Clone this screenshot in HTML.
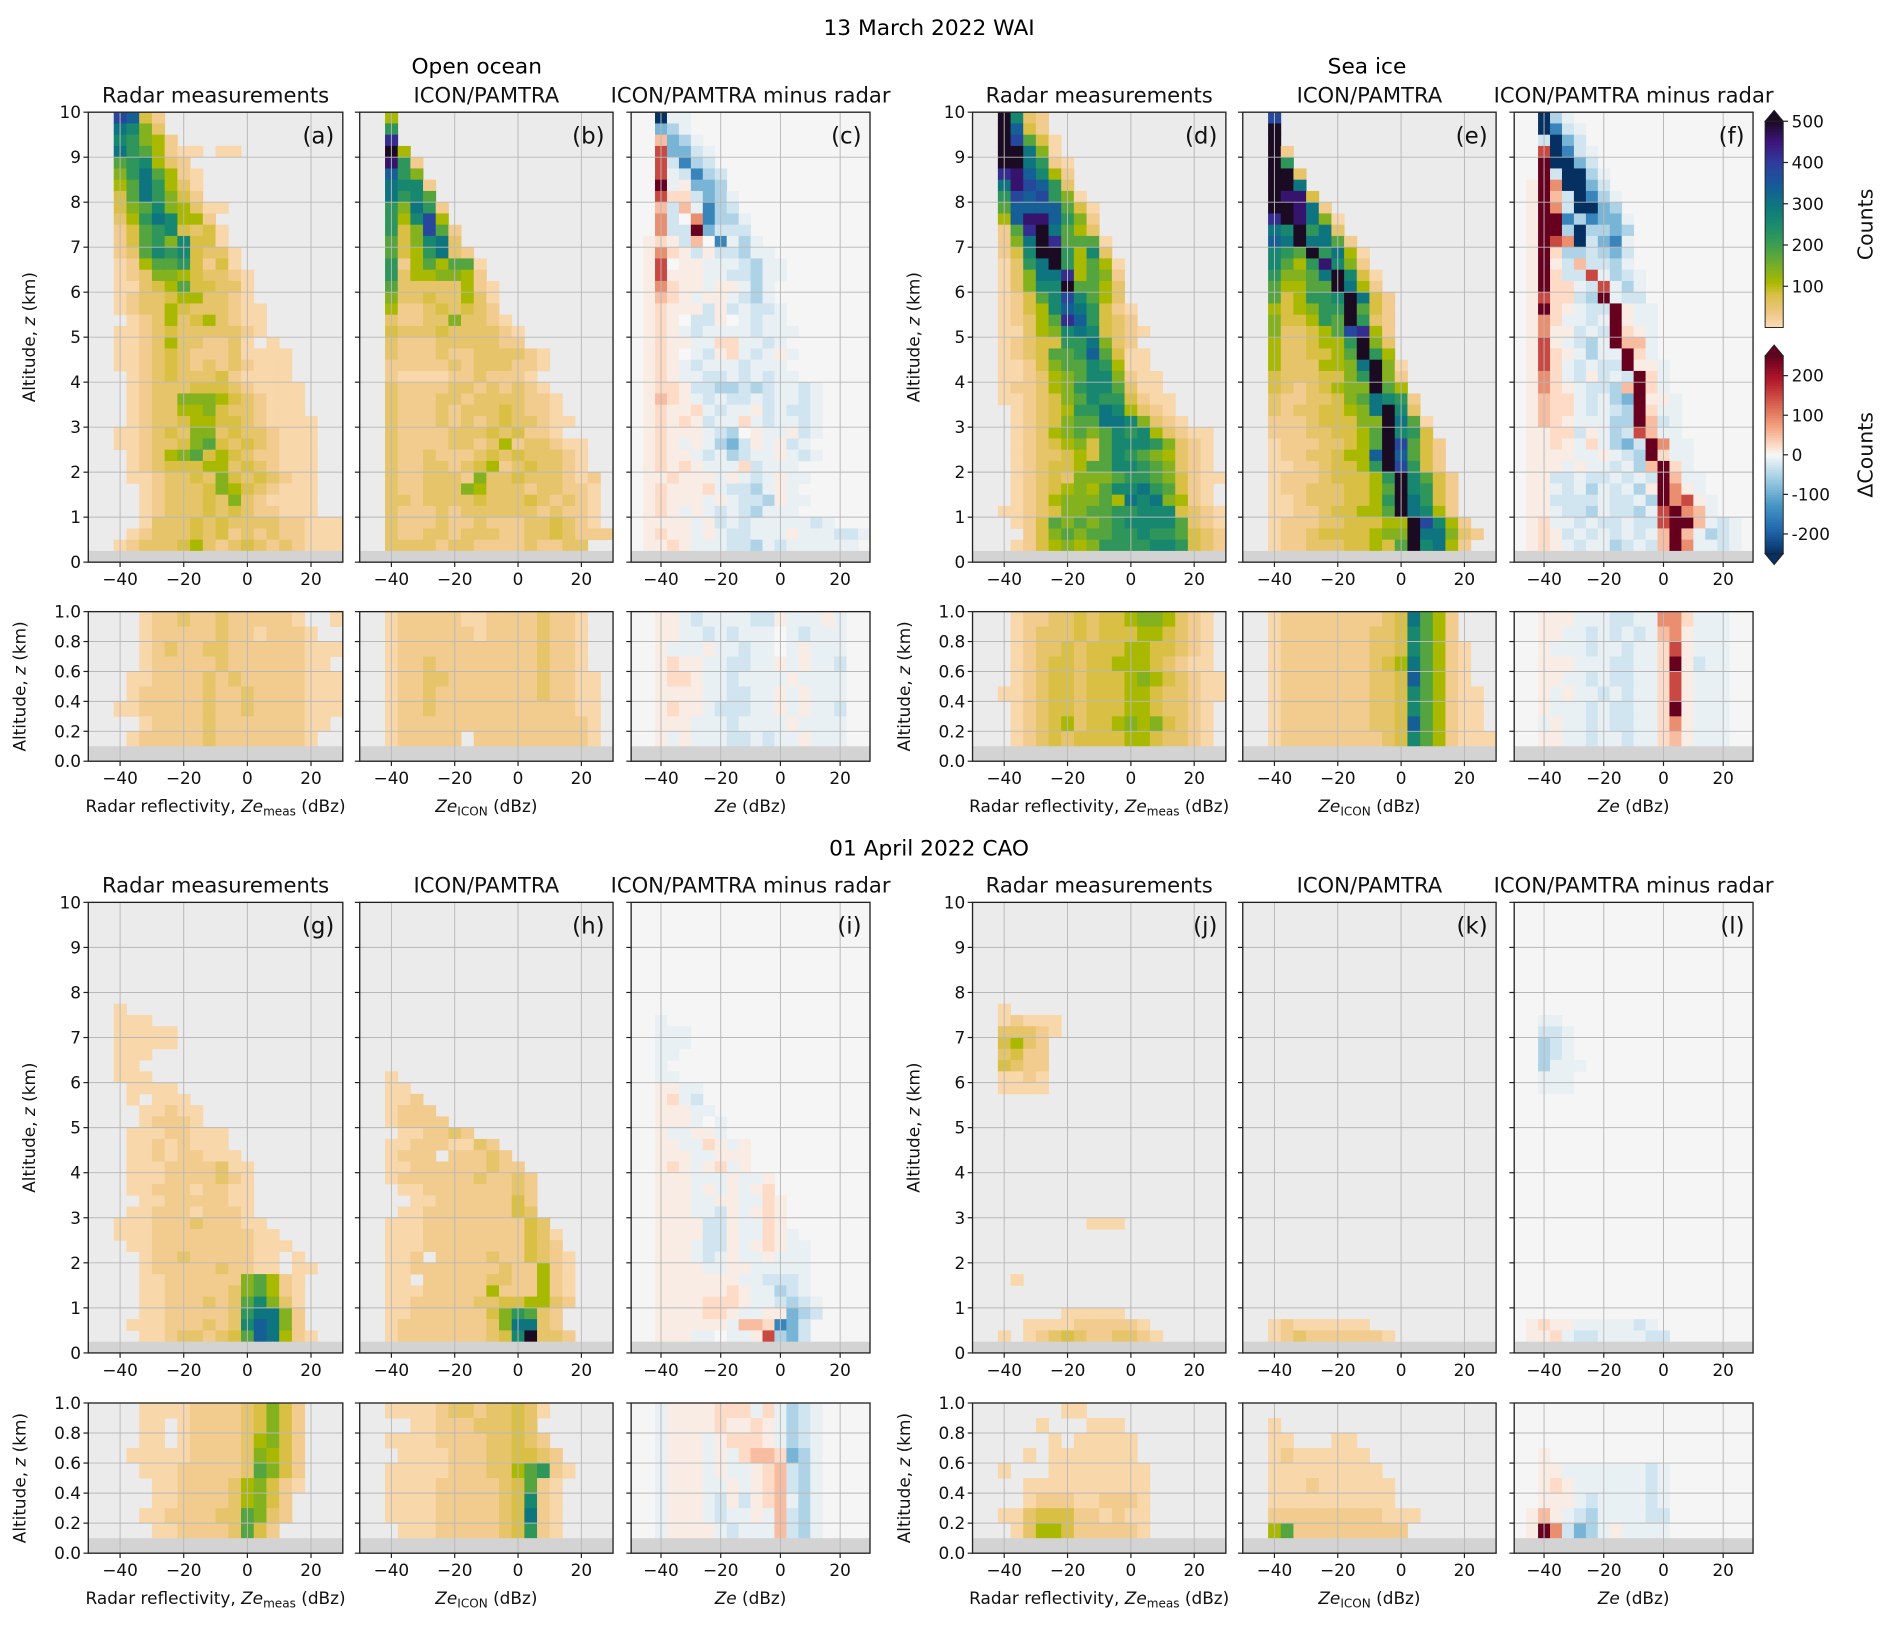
<!DOCTYPE html>
<html><head><meta charset="utf-8"><title>Radar vs ICON/PAMTRA CFADs</title>
<style>
html,body{margin:0;padding:0;background:#fff;}
svg{display:block;font-family:"DejaVu Sans","Liberation Sans",sans-serif;}
</style></head>
<body>
<svg id="fig" width="1892" height="1631" viewBox="0 0 1568 1352" xmlns="http://www.w3.org/2000/svg">
<rect x="0" y="0" width="1568" height="1352" fill="#ffffff"/>
<text x="770" y="29" font-size="18" text-anchor="middle">13 March 2022 WAI</text>
<text x="395" y="61" font-size="18" text-anchor="middle">Open ocean</text>
<text x="1133" y="61" font-size="18" text-anchor="middle">Sea ice</text>
<text x="770" y="709" font-size="18" text-anchor="middle">01 April 2022 CAO</text>
</svg>
<script>
// ---- value encodings ----
const countChars = ".abcdefghijklmno";
const countVals = [NaN,10,30,55,80,110,140,180,220,260,300,340,380,420,460,500];
const diffChars = "UVWXYZ0abcdef";
const diffVals = [-250,-150,-90,-50,-25,-10,0,10,25,50,90,150,250];
const xTicks = [-40,-20,0,20];
const yTicksBig = [0,1,2,3,4,5,6,7,8,9,10];
const yTicksSmall = [0,0.2,0.4,0.6,0.8,1.0];
const countCbarTicks = [100,200,300,400,500];
const diffCbarTicks = [-200,-100,0,100,200];

// ---- 13 March, open ocean ----
const radarOcean = [
"..lkdb","..jifc","..ihfeb","..jhgebaa.aa","..ghiecb","..fhjgeba","..egjheca","..dgjhfdb","..dfgifecaa","..cehjieeb",
"..bdghidcda","..bdghfidda","..bcgihidcca","..abegghdbda","..abcffedccba","..aacdegddcca","..abccdeeccba","..abccedcccbaa","...abcecdecbaa","..aabcdcccccba",
"..aabceccbbca.a","..aabcdcbbbcaaaa","..aabcdcbcbcbaaa","...abcdcccdbaaaa","...abcccdddcbaaaa","...abccfffedcbaaa","...abcceefdccbaaa","...abccdeeddcbaaaa","..aabcdcffcdccbaaa","..aabccdfgdcdcbaaa",
"...abcefgdedcbbaaa","...abcdddeecdcbaaa","...aabccdcfdcdcbaa","....abcccdfedcbaaa","....abcccdcfcbaaaa","....abcccdcdcbbaaa","....acccdcdccccbbaaa","...abcccdcdbcbcbbaaa","..abcccdecbcdcbcbaaa"];
const iconOcean = [
"..e","..h","..m","..oe","..nhb","..khf","..jiib","..jhig","..hfjhb","..heile",
"..hdflgb","..gdfijc","..gdehjcb","..hbegegga","..hceeffeb","..gccccceba","..fccdcceca","..ebbcdcdcb","..cbbccfccba","..dcccdccccba",
"..cbbbcccccbb","..cbbbcbbccccba","..bbbbbcbcccbba","..baaaabbcbbba","..cbbbbccbcbcba","..cbbbccbccccbba","..cbbbcbcccdcbba","..cbbbcbcbcdccbaa","..cbbbbcccdcdbba","..cbbbbccbcebccbaa",
"..cbbcbbbcdcdcccba","..cbbccbcdebcdccba","..cbbcccbfccdcccbab","..cbbcccfecccbccbba","..ccbccccdcccdcbcba","..cbbbcbccccccbcbba","..cbbbcbbcbbbccdcba","..cbbccbcccbbccdcbbb","..ccccbccbbbbcbbcc"];
const diffOcean = [
"..UZZ","..WXZ","..cWXZ","..eWWYZ","..eYVXY","..eZYVXY","..fZaWWX","..ebbYWXZ","..cYcZVXY","..dY0dVXXZ",
"..dYYfWYYY",".abaYc0VZXZ",".adbaYaYYXZZ",".ae0aaZZZYXZZ",".aeaaaZZYYXZZ",".adbaaZaaZXZ",".acbaZaaZYXZ",".abaaaYaYZYYZ",".aba0YYa0ZYZZ",".abaZYZZZZYZZZ",
".abaaZZbbZZYZ",".aba0ZYabZYZaZ",".abaZYZZZYZZZ",".abaZZYYZYZYZZ",".abbaYYXXYXYZZYZ",".acbaZYZYYZYZZYZ",".abaabZYZZaYZYYZ",".ababaYZZbZYZZYZ",".abaaaZYX0aZZaYZ",".abaZaZXWYaZaYZ",
".abaaZYZXYZZaZYZ",".ababaZZZbYZZZ",".aabaaaZaZYZaZZ",".abaaabZYYXZaZ",".abaaaZaZYYXaZZ",".abaZaZYZYXZZZ",".aaaaZaYZYZZZZZYZ",".abaaZaZYYZZZaZZZYYZ",".aabaZZZYYXZYZZZZZZ"];
const radarOceanLow = [
"....abbcbbcbbbbba..a","....abbbbbcbbabbba..","....abcbbccbbbbbbaaa","....abbbbbcbbbbbbaa.","...aabbbbcbcbbbbbaaa",
"...abbbbbcbbcbbbbaaa","..aabbbbbcbbcbbbbaaa","....abbbbcbbbbbbbaa.","...abbbbbcbbbbbbba.."];
const iconOceanLow = [
"..abbbbbaabbbbcbba..","..abbbbbbabbbbcbba..","..abbbbbbbbbbbcbba..","..abbcbbbbbbbbcbba..","..abbccbbbbbbbcbbaa.",
"..abbcbbbbbbbbcbbaa.","..abbcbbbbbbbbbbbaa.","..abbbbbbbbbbbbbbba.","..abbbbb.bbbbbbbbba."];
const diffOceanLow = [
"..aaZYZZZZYYaZZZaZ..","..aaZZYZYZZZ0ZYZZZ..","..aZZZaZZYZZ0ZaZZZ..","..abaaZZYYZZaZaZZY..","..abbaZZYZZZZaZZZZ..",
"..aaaaZZYYZZaZaZZZ..","..abaaZYYYZZaZaZZY..","..aaaZZZYZZZZaZZZZ..","..aZaZZZYYZYZZaZZZ.."];

// ---- 13 March, sea ice ----
const radarIce = [
"..oicb","..okdb","..olgda","..oojfa","..oojhba","..mnkieb","..jnlkhc","..hlklhfa","..gkkkkgda","..eknnkhfb",
"..bgmojgec","..bfjomggga","..bdiooheic","..achjohegea","..acfjjmegfb","..acfiioggec","..abdgiligec","..abdeikjhdba","..abcegmkhdcb","..aacefijidcba",
"..abcddhhjfcb","..abcdgghkgdaa","..aabdfggiheaa","..aabcefgiifbaa","..abbcefhiigcaa","..aabcdfgihhdbaa","...abcdehhjiecba","...abcdfggjjifcba","...abcefgfgihiecbaa","...abcdefdgiiihfcba",
"...abccdedgihgfecba","...abcddeggiihgfcba","...abcdcfffghhgfdbaa","...abcdefegiijhgdba","...abcefffgejijfeba","..aabcdffgghhiiidcba","...abdgfgfghiiiigcba","....bdfgfgghhihhgdcb","...abdefefhhhhiihdcb"];
const iconIce = [
"..l","..o","..o","..ob","..oh","..ooc","..ooj","..onnd","..oonjb","..monjfa",
"..jiohjc","..kjojjgb","..ihgohjea","..igehnifb","..hffgjoida","..geeggojeb","..gdehhiojdb","..edefhhogdb","..fddehgohcb","..fccdeglmeb",
"..eccdeehofc","..eccddegohe","..eccceefjofa","..dcccddfhofb","..dcbcdeffoge","..cbbccdfgjihb","..cbccddefjoic","..bbbcdddffojga","..bbbccddegoihd","..abbbccdegolgdb",
"..abbccdeekokgdb","..aabbcddeholhdb","..abbbcdddehoigdb","..abbcccddegoihdb","..aabcccddehojhdb","..aabbcddeegojieb","..abbbccdddeeolieb","..abbcddddeffojjfcb","..abbcccddedgoijeb"];
const diffIce = [
"..UXZ","..UVYZ","..YUWY","..eUVYZ","..fUUWY","..fYUUXZ",".afdUUWY",".afcYUVXZ",".afdYUUWX",".affVXVWWZ",
".affXUXXWX",".afedUYWVZ",".afbXXYXWY",".afaYcYYXZ",".afbYYeZXYZ",".afbbZYeZXZ",".aebbYXfZYY",".afbaZYYfaZZ",".adbZZYZfaZZ",".adaaYZYfbaZ",
".aeaZYXZfccZ",".aebaZXZZfbZ",".aebZYZYYfaaZ",".adbZYaYZYfbZ",".adbaZYYXcfbZ",".acbbZYZXWfaaZ",".acbbZYZYXfbZZ",".acbaZZZXXfcYZ",".aabbYaZXYecZZ",".aabaZbZXWYfdZZ",
".aaaaZZaZYXfbZZ",".aaaZaZZYZXcfbZ",".aaYYZYYZYZYfcZZ",".aaZYZXZYZXafdaZ",".aaYYYYZYYZXfdeaZ",".aaZYYXZYYXZefdcZ",".abZZYZYYZYYeffcZYZ",".abaYZYZYZYZcfcZXYZ",".abaZYZZXYZYcfdZZYZ"];
const radarIceLow = [
"...abbccdcddeffecba.","...abcccdcdddeedcba.","...abccdcdddeeddcba.","...abcddcddeeedcbaa.","...abcddcdddefedcbaa",
"..aabcddcdddeedccbaa","...abcddcdddeedccba.","...abcdecddefefdcba.","...abcdcddddeedccba."];
const iconIceLow = [
"..abbbbbbbbcdjgeb...","..abbbbbbbccdigeb...","..abbbbbbbccdigeba..","..abbbbbbbcdejgeba..","..abbbbbbbccdkgeba..",
"..abbbbbbbccdigebaa.","..abbbbbbbccdigebaa.","..abbbbbbbccdkgebaa.","..abbbbbbbbcdigebaaa"];
const diffIceLow = [
"..aaaZZZYYZZddbZZZ..","..aaZZYZYZYZcdaZZZ..","..aZZZYZZYZZbeaZZZ..","..aaaZZZYYZZbfaYZZ..","..aaZZYZYYZZbeaZZZ..",
"..aZaZZYZYZZbeaZZZ..","..aZZZYZYYZZbfaZZZ..","..ZaZZYZYYZZbdaZZZ..","..aaZZYZZYZZbcaZZZ.."];

// ---- 01 April, open ocean ----
const radarCaoOcean = [
"","","","","","","","","",
"..a","..aaa","..aaaaa","..aaaaa","..aaa","..aa","..aaa","...aaaa","...a.aaa","....aabaa","....abbba",
"...aaabbaaa","...aababaaa","...aababbaaa","...aaabbbbcaa","...aaabbbbcba","...aabbbabbaa","....aabbbbbaa","...aabbbabbba","..aaabbbcbbbaa","..aaabbbbbbbbaa",
"...aabbbbbbbbaaa","....abbcbbbbbaa.a","....abbbbbcbbaa.aa","....aabbbbbbfgeba","....aabbbbbcfgeba","....aabbbcbcgifca","....aabbbbbchjjfb","...aaabbbcbcikjfb","....aabccbcdgkjeba"];
const iconCaoOcean = [
"","","","","","","","","","","","","","","",
"..a","..aa","..aab","..abbb","..abbbb",
"...aabbcb","..aabbbaacb","..abbb.bbbcb","..aabbbbbbcbb","..abbbbbbcbbcb","...aabbbbbbbcb","....aabbbbbbdb","...aabbbbbbbdc","..aaabbbbbbbbdc","..aaabbbbbbbbdca",
"..aaabbbbbbbbdcb","..aab.bbbbcbbdcba","..aabbbbbbbcbbeba","..aa.bbbbbccbbeba","..aaabbbbbebbbeba","..aabbbbbccddeecb","..aabbbbbbdfhgcb","..abbbbbbbcfjjcb","..abbbbbbbcdioccb"];
const diffCaoOcean = [
"","","","","","","","","","",
"..Z","..ZZZ","..ZZZ","..ZZ","..Z","..ZZ","..aaZZ","..abZY","..aaaZZ","..aaaZ0Z",
"..aZZaaZ","..aaZZbaZa","..aaaZZaaa","..abaZabZa","..aaaZZZaZZa","..aaaZaZaZab","..aaaZZaaZZba","..aaaZZYaZaba","..aaaaYYaZZba","..aaaaYYaZZbaZ",
"..aaaZYYaZabaZZ","..aaaZYZaZZaZZZ","..aaaaZZaaZZZZZ","..aaaaaaaZZYYYZ","..aaaaaabaZZXYZ","..aaaabbbaZZYXYZ","..aaaabbaZZaaWXY","..aaaaaaZccbVWY","..aaaZZ0ZZaeXWY"];
const radarCaoOceanLow = [
"....aaaabbbbcdfdb","....aa.abbbbcdfdb","....aa.abbbbcefdb","...aaaaabbbbcfedb","....aaabbbbbcgfdb",
".....aabbbbcefdba",".....aabbbbcefdb","....aabbbbccgfcb",".....aabbbbcgdb"];
const iconCaoOceanLow = [
"..aaaabccbccdca","....aabbbcccdc","..aaaabbbbccdcb","...aaaabbbccddcb","..aaaaabbbcceghba",
"..aaaabbbbbcdgba","..aaaabbbbbcdiba","..aaaabbbbbcdjba","...aaabbbbbcdhba"];
const diffCaoOceanLow = [
"..ZaaaabbbZbZXYZ","..ZaaaabaabaZXYZ","..ZaaaZabbbaZXYZ","..ZaaaZaZbccbWXZ","..ZaaaZaZZabcYXZ",
"..ZaaaZZaZabcYXZ","..ZaaaZYaYabcZXZ","..ZaaaZYZZaZcYXZ","..ZaaaaZYZZZcYXZ"];

// ---- 01 April, sea ice ----
const radarCaoIce = [
"","","","","","","","","",
"..a","..abaaa","..cccba","..decb","..cdbb","..dcbb","..aaba","..aaaa","","","",
"","","","","","","","",".........aaa","",
"","","","...a","","",".......aaaaa","....aaaabbbbba","..a.abcdcbbccba"];
const iconCaoIce = [
"","","","","","","","","","","","","","","","","","","","",
"","","","","","","","","","","","","","","","","","..abaaaaaa","..abcbbbbbba"];
const diffCaoIce = [
"","","","","","","","","","",
"..ZZ","..YYZ","..XYZ","..XYZ","..XZZZ","..ZZZ","..ZZZ","","","",
"","","","","","","","","","",
"","","","","","","",".abaaZZZZZYZ",".aabZYYZZZZYY"];
const radarCaoIceLow = [
".......aa",".....a...aaa","......a.aaaaa","....a.aaaaaaa","..a...aaaaaaaa",
"....aaaaaaaaaa","....abbbaabbba","..aacdddbbabaa","...aceedbbbbba"];
const iconCaoIceLow = [
"","..a","..aa...aa","..abaaaaaa","..aaaaaaaaa",
"..aaabaaaaaa","..aaaaaaaaaa","..bbbbbbbbbaaa","..egbbbbbbbbb"];
const diffCaoIceLow = [
"","","","..a","..aaZZZZZZZYZ",
"..abaZZZZZZYZ","..aaaZYZZZZYZ",".acaZYXZZZZYY",".afdYWXZaZZZZ"];

// ---- colormaps ----
const countStops = [[0,[251,220,184]],[40,[237,198,128]],[80,[217,192,69]],[110,[169,184,0]],[150,[120,174,40]],[200,[60,158,79]],[250,[26,139,108]],[300,[14,117,128]],[350,[23,89,155]],[400,[47,60,156]],[450,[61,21,126]],[500,[27,11,34]]];
const diffStops = [[-250,[5,48,97]],[-190,[33,102,172]],[-130,[67,147,195]],[-70,[146,197,222]],[-25,[209,229,240]],[0,[247,247,247]],[25,[253,219,199]],[70,[244,165,130]],[130,[214,96,77]],[190,[178,24,43]],[250,[103,0,31]]];
function interp(stops,v){
  if(v<=stops[0][0]) return stops[0][1];
  for(let i=1;i<stops.length;i++){
    if(v<=stops[i][0]){const a=stops[i-1],b=stops[i];const t=(v-a[0])/(b[0]-a[0]);
      return a[1].map((x,k)=>Math.round(x+(b[1][k]-x)*t));}
  }
  return stops[stops.length-1][1];
}
function rgb(c){return 'rgb('+c[0]+','+c[1]+','+c[2]+')';}
function decode(kind,ch){
  if(kind==='count'){const i=countChars.indexOf(ch);return i<=0?NaN:countVals[i];}
  const i=diffChars.indexOf(ch);return i<0?NaN:diffVals[i];
}
function colorOf(kind,v){return rgb(interp(kind==='count'?countStops:diffStops,v));}

const NS='http://www.w3.org/2000/svg';
const svg=document.getElementById('fig');
function mk(tag,attrs,parent){const e=document.createElementNS(NS,tag);for(const k in attrs)e.setAttribute(k,attrs[k]);(parent||svg).appendChild(e);return e;}
function tspan(parent,txt,attrs){const t=mk('tspan',attrs||{},parent);t.textContent=txt;return t;}

// ---- layout ----
const colX = [[73,284],[298,508],[523,721],[806,1016],[1030,1240],[1255,1453]];
const rowY = {big1:[93,466],small1:[507,631],big2:[748,1121.5],small2:[1163,1287.5]};
const panels = [
 {id:'a',data:radarOcean,kind:'count',row:'big1',col:0,title:'Radar measurements'},
 {id:'b',data:iconOcean,kind:'count',row:'big1',col:1,title:'ICON/PAMTRA'},
 {id:'c',data:diffOcean,kind:'diff',row:'big1',col:2,title:'ICON/PAMTRA minus radar'},
 {id:'d',data:radarIce,kind:'count',row:'big1',col:3,title:'Radar measurements'},
 {id:'e',data:iconIce,kind:'count',row:'big1',col:4,title:'ICON/PAMTRA'},
 {id:'f',data:diffIce,kind:'diff',row:'big1',col:5,title:'ICON/PAMTRA minus radar'},
 {id:'a-low',data:radarOceanLow,kind:'count',row:'small1',col:0},
 {id:'b-low',data:iconOceanLow,kind:'count',row:'small1',col:1},
 {id:'c-low',data:diffOceanLow,kind:'diff',row:'small1',col:2},
 {id:'d-low',data:radarIceLow,kind:'count',row:'small1',col:3},
 {id:'e-low',data:iconIceLow,kind:'count',row:'small1',col:4},
 {id:'f-low',data:diffIceLow,kind:'diff',row:'small1',col:5},
 {id:'g',data:radarCaoOcean,kind:'count',row:'big2',col:0,title:'Radar measurements'},
 {id:'h',data:iconCaoOcean,kind:'count',row:'big2',col:1,title:'ICON/PAMTRA'},
 {id:'i',data:diffCaoOcean,kind:'diff',row:'big2',col:2,title:'ICON/PAMTRA minus radar'},
 {id:'j',data:radarCaoIce,kind:'count',row:'big2',col:3,title:'Radar measurements'},
 {id:'k',data:iconCaoIce,kind:'count',row:'big2',col:4,title:'ICON/PAMTRA'},
 {id:'l',data:diffCaoIce,kind:'diff',row:'big2',col:5,title:'ICON/PAMTRA minus radar'},
 {id:'g-low',data:radarCaoOceanLow,kind:'count',row:'small2',col:0},
 {id:'h-low',data:iconCaoOceanLow,kind:'count',row:'small2',col:1},
 {id:'i-low',data:diffCaoOceanLow,kind:'diff',row:'small2',col:2},
 {id:'j-low',data:radarCaoIceLow,kind:'count',row:'small2',col:3},
 {id:'k-low',data:iconCaoIceLow,kind:'count',row:'small2',col:4},
 {id:'l-low',data:diffCaoIceLow,kind:'diff',row:'small2',col:5}
];

panels.forEach(p=>{
  const [x0,x1]=colX[p.col]; const [y0,y1]=rowY[p.row];
  const big=p.row.startsWith('big');
  const zmax=big?10:1, dz=big?0.25:0.1, nrows=big?39:9;
  const xs=v=>x0+(v+50)/80*(x1-x0);
  const ys=z=>y1-z/zmax*(y1-y0);
  const g=mk('g',{});
  
  
  const bg=mk('rect',{x:x0,y:y0,width:x1-x0,height:y1-y0,fill:p.kind==='count'?'#ebebeb':'#f5f5f5'},g);
  
  
  const rows=p.data.map(s=>s.replace(/\s/g,'').padEnd(20,'.').slice(0,20));
  for(let r=0;r<Math.min(nrows,rows.length);r++){
    for(let c=0;c<20;c++){
      const v=decode(p.kind,rows[r][c]);
      if(isNaN(v)) continue;
      const zt=zmax-dz*r, zb=zt-dz;
      const cx=xs(-50+4*c), cw=xs(-46+4*c)-cx;
      const cell=mk('rect',{x:cx.toFixed(2),y:ys(zt).toFixed(2),width:(cw+0.35).toFixed(2),height:(ys(zb)-ys(zt)+0.35).toFixed(2),fill:colorOf(p.kind,v)},g);
      
      
    }
  }
  const gb=mk('rect',{x:x0,y:ys(dz),width:x1-x0,height:ys(0)-ys(dz),fill:'#d3d3d3'},g);
  
  
  const yt=big?yTicksBig:yTicksSmall;
  xTicks.forEach(v=>{
    const gl=mk('line',{x1:xs(v),x2:xs(v),y1:y0,y2:y1,stroke:'#b8b8b8','stroke-width':0.8},g);
    
    
  });
  yt.forEach(v=>{
    const gl=mk('line',{x1:x0,x2:x1,y1:ys(v),y2:ys(v),stroke:'#b8b8b8','stroke-width':0.8},g);
    
    
  });
  const sp=mk('rect',{x:x0,y:y0,width:x1-x0,height:y1-y0,fill:'none',stroke:'#222','stroke-width':1.1},g);
  
  
  xTicks.forEach(v=>{
    const t=mk('line',{x1:xs(v),x2:xs(v),y1:y1,y2:y1+4,stroke:'#222','stroke-width':1},g);
    
    
    const tl=mk('text',{x:xs(v),y:y1+19,'font-size':14,'text-anchor':'middle',fill:'#111'},g);
    
    
    tl.textContent=(v<0?'\u2212'+(-v):String(v));
  });
  const showY=(p.col===0||p.col===3);
  yt.forEach(v=>{
    const t=mk('line',{x1:x0-4,x2:x0,y1:ys(v),y2:ys(v),stroke:'#222','stroke-width':1},g);
    
    
    if(showY){
      const tl=mk('text',{x:x0-6,y:ys(v)+5,'font-size':14,'text-anchor':'end',fill:'#111'},g);
      
      
      tl.textContent=big?String(v):v.toFixed(1);
    }
  });
  if(showY){
    const lx=big?x0-44:x0-52; const cy=(y0+y1)/2;
    const yl=mk('text',{x:lx,y:cy,'font-size':14,'text-anchor':'middle',transform:'rotate(-90 '+lx+' '+cy+')',fill:'#111'},g);
    
    
    tspan(yl,'Altitude, ');
    tspan(yl,'z',{'font-style':'italic'});
    tspan(yl,' (km)');
  }
  if(p.title){
    const tt=mk('text',{x:(x0+x1)/2,y:y0-8,'font-size':17.5,'text-anchor':'middle',fill:'#111'},g);
    
    
    tt.textContent=p.title;
    const lt=mk('text',{x:x1-7,y:y0+26,'font-size':19,'text-anchor':'end',fill:'#111'},g);
    
    
    lt.textContent='('+p.id+')';
  }
  if(!big){
    const xl=mk('text',{x:(x0+x1)/2,y:y1+42,'font-size':14,'text-anchor':'middle',fill:'#111'},g);
    
    
    if(p.col%3===0){
      tspan(xl,'Radar reflectivity, ');
      tspan(xl,'Ze',{'font-style':'italic'});
      tspan(xl,'meas',{'font-size':10,dy:3});
      tspan(xl,'  (dBz)',{dy:-3});
    } else if(p.col%3===1){
      tspan(xl,'Ze',{'font-style':'italic'});
      tspan(xl,'ICON',{'font-size':10,dy:3});
      tspan(xl,' (dBz)',{dy:-3});
    } else {
      tspan(xl,'Ze',{'font-style':'italic'});
      tspan(xl,' (dBz)');
    }
  }
});

// ---- colorbars ----
function colorbar(name,stops,vmin,vmax,yTop,yBot,ticks,extendBoth,label){
  const x0=1463,x1=1478;
  const g=mk('g',{});
  
  
  const ys=v=>yBot-(v-vmin)/(vmax-vmin)*(yBot-yTop);
  const n=80;
  for(let i=0;i<n;i++){
    const v0=vmin+(vmax-vmin)*i/n, v1=vmin+(vmax-vmin)*(i+1)/n;
    const s=mk('rect',{x:x0,y:ys(v1),width:x1-x0,height:ys(v0)-ys(v1)+0.4,fill:rgb(interp(stops,(v0+v1)/2))},g);
    
    
  }
  const tri=mk('polygon',{points:x0+','+yTop+' '+x1+','+yTop+' '+((x0+x1)/2)+','+(yTop-9),fill:rgb(interp(stops,vmax)),stroke:'#222','stroke-width':0.8},g);
  
  
  if(extendBoth){
    const t2=mk('polygon',{points:x0+','+yBot+' '+x1+','+yBot+' '+((x0+x1)/2)+','+(yBot+9),fill:rgb(interp(stops,vmin)),stroke:'#222','stroke-width':0.8},g);
    
    
  }
  const fr=mk('rect',{x:x0,y:yTop,width:x1-x0,height:yBot-yTop,fill:'none',stroke:'#222','stroke-width':0.8},g);
  
  
  ticks.forEach(v=>{
    const t=mk('line',{x1:x1,x2:x1+4,y1:ys(v),y2:ys(v),stroke:'#222','stroke-width':1},g);
    
    
    const tl=mk('text',{x:x1+7,y:ys(v)+5,'font-size':14,fill:'#111'},g);
    
    
    tl.textContent=String(v);
  });
  const cy=(yTop+yBot)/2, lx=1552;
  const lb=mk('text',{x:lx,y:cy,'font-size':17,'text-anchor':'middle',transform:'rotate(-90 '+lx+' '+cy+')',fill:'#111'},g);
  
  
  lb.textContent=label;
}
colorbar('counts-colorbar',countStops,0,500,100.5,271.5,countCbarTicks,false,'Counts');
colorbar('delta-counts-colorbar',diffStops,-250,250,295,459,diffCbarTicks,true,'\u0394Counts');
</script>
</body></html>
